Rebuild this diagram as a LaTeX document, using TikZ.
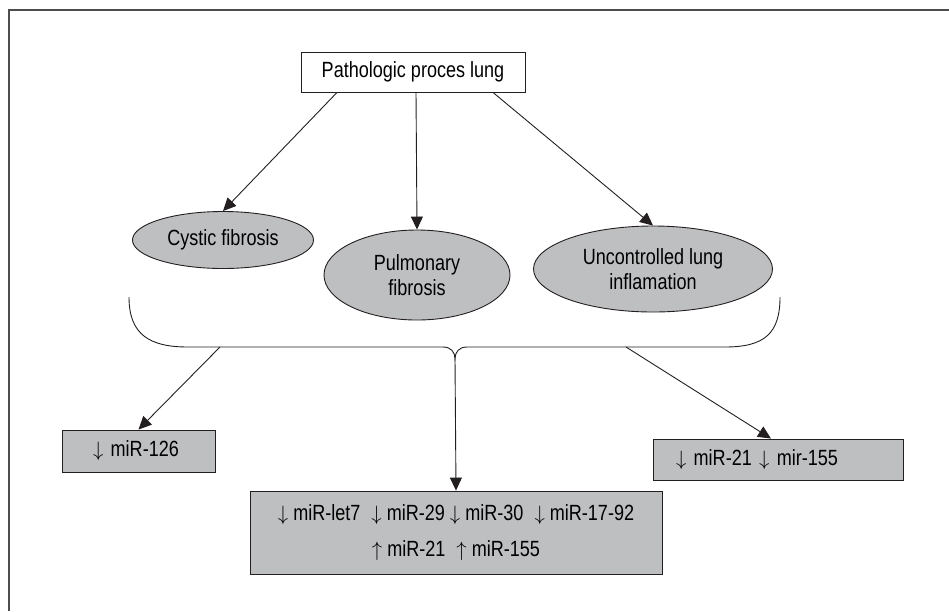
\documentclass[tikz,border=0pt]{standalone}
\usepackage{fontspec}
\setmainfont{Liberation Sans}[FakeStretch=0.82]
\usepackage{xcolor}
\definecolor{dnxam}{HTML}{BEBFC1}
\definecolor{dnden}{HTML}{231F20}
\definecolor{dnkhung}{HTML}{4D4D4D}
\def\maunen{dnxam}
\def\mauvien{dnden}
\def\maukhung{dnkhung}
\usetikzlibrary{shapes,calc,arrows.meta}

\begin{document}
\begin{tikzpicture}[x=1pt,y=-1pt,font=\fontsize{22}{25}\selectfont,
	hop/.style={draw=\mauvien,line width=0.9pt,inner sep=0pt},
	benh/.style={shape=ellipse,draw=\mauvien,fill=\maunen,line width=0.9pt,inner sep=0pt,align=center},
	muiten/.style={-{Triangle[length=13pt,width=12pt]},line width=0.9pt,draw=\mauvien}]
		\useasboundingbox (0,0) rectangle (949,611);
		\draw[\maukhung,line width=1.3pt] (949,10) -- (9,10) -- (9,611);
		\path (413,72) node[hop,minimum width=224pt,minimum height=40pt] (goc) {Pathologic proces lung}
		(223,240) node[benh,minimum width=181pt,minimum height=57pt] (cf) {Cystic fibrosis}
		(417,275) node[benh,minimum width=186pt,minimum height=90pt] (pf) {Pulmonary\\fibrosis}
		(653,269) node[benh,minimum width=239pt,minimum height=86pt] (ul) {Uncontrolled lung\\inflamation}
		(138.5,451) node[hop,fill=\maunen,minimum height=42pt,text width=91pt,inner xsep=31pt,align=left] (m1) {$\downarrow$ miR-126}
		(778,459.5) node[hop,fill=\maunen,minimum height=41pt,text width=204pt,inner xsep=23pt,align=left] (m2) {$\downarrow$ miR-21 $\downarrow$ mir-155}
		(456,532.5) node[hop,fill=\maunen,minimum width=412pt,minimum height=83pt,align=center,font=\fontsize{22}{36}\selectfont] (m3) {$\downarrow$ miR-let7\enspace$\downarrow$ miR-29 $\downarrow$ miR-30\enspace$\downarrow$ miR-17-92\\$\uparrow$ miR-21\enspace$\uparrow$ miR-155}
		;
		% ngoac
		\path (129,297) coordinate (nt) (780,297) coordinate (np) (455,359) coordinate (ng)
		(220,347) coordinate (n1) (626,347) coordinate (n2);
		\draw[\mauvien,line width=0.9pt] (nt) .. controls (129,335) and (150,347) .. (188,347) -- (443,347) .. controls (451,347) and (455,352) .. (ng) .. controls (455,352) and (459,347) .. (467,347) -- (725,347) .. controls (765,347) and (780,333) .. (np);
		\draw[muiten] ([xshift=-76pt]goc.south) -- (cf.north);
		\draw[muiten] ([xshift=3pt]goc.south) -- (pf.north);
		\draw[muiten] ([xshift=80pt]goc.south) -- (ul.north);
		\draw[muiten] (n1) -- (m1.north);
		\draw[muiten] (ng) -- (m3.north);
		\draw[muiten] (n2) -- ([xshift=-7pt]m2.north);
		
	\end{tikzpicture}
\end{document}
